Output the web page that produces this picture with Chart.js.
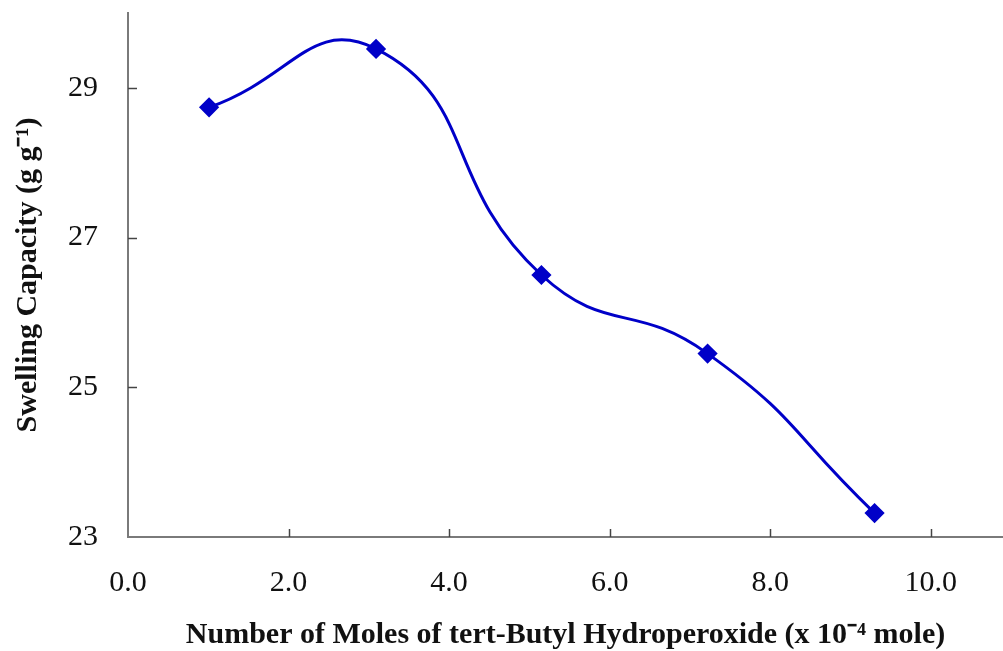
<!DOCTYPE html>
<html>
<head>
<meta charset="utf-8">
<script src="https://cdn.jsdelivr.net/npm/chart.js@4/dist/chart.umd.min.js"></script>
<style>
  html, body { margin: 0; padding: 0; background: #fff; }
  #wrap { width: 1003px; height: 651px; }
</style>
</head>
<body>
<div id="wrap"><canvas id="chart"></canvas></div>
<script>
// data
const moles = [1.01, 3.09, 5.15, 7.22, 9.30];
const swelling = [28.74, 29.52, 26.50, 25.45, 23.32];
const xTicks = [0, 2, 4, 6, 8, 10];
const yTicks = [23, 25, 27, 29];

const serif = "'Liberation Serif', 'Times New Roman', serif";
const axisColor = '#7a7a7a';

// small inward tick marks like the original
const innerTicks = {
  id: 'innerTicks',
  afterDraw(chart) {
    const { ctx, chartArea, scales } = chart;
    ctx.save();
    ctx.strokeStyle = '#444';
    ctx.lineWidth = 1.5;
    xTicks.forEach(v => {
      if (v === 0) return;
      const px = Math.round(scales.x.getPixelForValue(v)) + 0.5;
      ctx.beginPath();
      ctx.moveTo(px, chartArea.bottom);
      ctx.lineTo(px, chartArea.bottom - 8);
      ctx.stroke();
    });
    yTicks.forEach(v => {
      if (v === 23) return;
      const py = Math.round(scales.y.getPixelForValue(v)) + 0.5;
      ctx.beginPath();
      ctx.moveTo(chartArea.left, py);
      ctx.lineTo(chartArea.left + 9, py);
      ctx.stroke();
    });
    ctx.restore();
  }
};

// keep the plot area where the original has it
function noPad(s) {
  s.paddingTop = 0; s.paddingBottom = 0; s.paddingLeft = 0; s.paddingRight = 0;
}

new Chart(document.getElementById('chart'), {
  type: 'line',
  data: {
    datasets: [{
      data: moles.map((x, i) => ({ x: x, y: swelling[i] })),
      borderColor: '#0000c8',
      backgroundColor: '#0000c8',
      borderWidth: 3,
      tension: 0.5,
      pointStyle: 'rectRot',
      pointRadius: 8,
      fill: false
    }]
  },
  options: {
    responsive: true,
    maintainAspectRatio: false,
    animation: false,
    layout: { autoPadding: false, padding: { top: 13, right: 0, left: 6, bottom: 0 } },
    plugins: { legend: { display: false }, tooltip: { enabled: false } },
    scales: {
      x: {
        type: 'linear',
        min: 0,
        max: 10.9,
        afterBuildTicks: s => { s.ticks = xTicks.map(v => ({ value: v })); },
        afterFit: s => { s.height = 114; noPad(s); },
        ticks: {
          padding: 28,
          color: '#111',
          font: { family: serif, size: 30 },
          callback: v => v.toFixed(1)
        },
        grid: { display: false, drawTicks: false },
        border: { color: axisColor, width: 2 },
        title: {
          display: true,
          text: 'Number of Moles of tert-Butyl Hydroperoxide (x 10\u207B\u2074 mole)',
          color: '#111',
          font: { family: serif, size: 30, weight: 'bold' },
          padding: { top: 14, bottom: -2 }
        }
      },
      y: {
        min: 23,
        max: 30,
        afterBuildTicks: s => { s.ticks = yTicks.map(v => ({ value: v })); },
        afterFit: s => { s.width = 122; noPad(s); },
        ticks: {
          padding: 30,
          color: '#111',
          font: { family: serif, size: 30 }
        },
        grid: { display: false, drawTicks: false },
        border: { color: axisColor, width: 2 },
        title: {
          display: true,
          text: 'Swelling Capacity (g g\u207B\u00B9)',
          color: '#111',
          font: { family: serif, size: 30, weight: 'bold' },
          padding: { top: 4, bottom: 0 }
        }
      }
    }
  },
  plugins: [innerTicks]
});
</script>
</body>
</html>
